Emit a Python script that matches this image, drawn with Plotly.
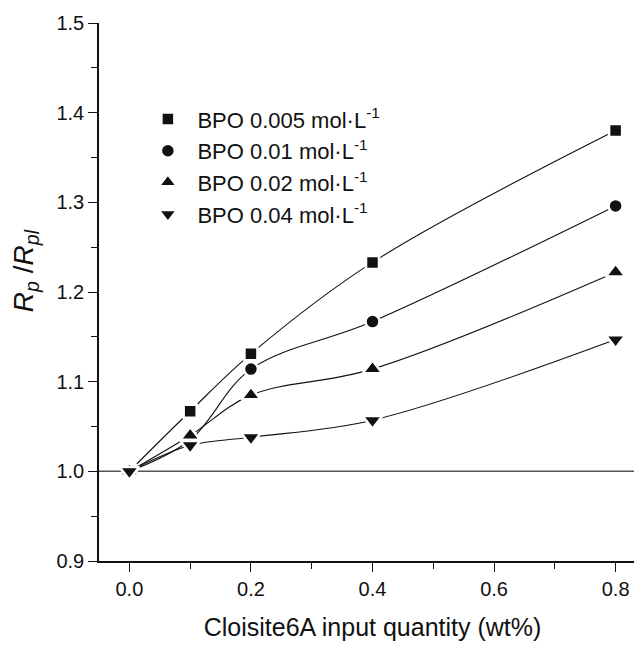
import plotly.graph_objects as go

x_vals = [0.0, 0.1, 0.2, 0.4, 0.8]
bpo_0005 = [1.000, 1.067, 1.131, 1.233, 1.380]
bpo_001 = [1.000, 1.035, 1.114, 1.167, 1.296]
bpo_002 = [1.000, 1.040, 1.085, 1.114, 1.222]
bpo_004 = [1.000, 1.029, 1.038, 1.057, 1.147]

series_names = [
    "BPO 0.005 mol·L<sup>-1</sup>",
    "BPO 0.01 mol·L<sup>-1</sup>",
    "BPO 0.02 mol·L<sup>-1</sup>",
    "BPO 0.04 mol·L<sup>-1</sup>",
]
series_values = [bpo_0005, bpo_001, bpo_002, bpo_004]
symbols = ["square", "circle", "triangle-up", "triangle-down"]
sizes = [13, 14, 17, 17]

FONT = "Arial, Liberation Sans, sans-serif"

fig = go.Figure()
# smooth connecting curves (no legend entries)
for vals in series_values:
    fig.add_trace(go.Scatter(
        x=x_vals, y=vals, mode="lines", showlegend=False, hoverinfo="skip",
        line=dict(color="#111", width=1.1, shape="spline", smoothing=1.0),
    ))
# markers with white halo to leave gaps in the curves
for name, vals, sym, sz in zip(series_names, series_values, symbols, sizes):
    fig.add_trace(go.Scatter(
        x=x_vals, y=vals, name=name, mode="markers",
        marker=dict(symbol=sym, size=sz, color="#111",
                    line=dict(color="white", width=2.5)),
    ))

fig.add_shape(type="line", xref="paper", x0=0, x1=1, yref="y", y0=1.0, y1=1.0,
              line=dict(color="#555", width=1.5), layer="below")

fig.add_annotation(
    text="<i>R</i><sub><i>p</i></sub> /<i>R</i><sub><i>pl</i></sub>",
    xref="paper", yref="paper", x=-0.135, y=0.539, xanchor="center", yanchor="middle",
    textangle=-90, showarrow=False, font=dict(size=28, family=FONT, color="#111"),
)

fig.update_layout(
    width=642, height=649, autosize=False,
    margin=dict(l=91, r=4, t=13, b=96),
    paper_bgcolor="white", plot_bgcolor="white",
    font=dict(family=FONT, color="#111"),
    showlegend=True,
    legend=dict(x=0.072, y=0.86, xanchor="left", yanchor="top",
                font=dict(size=22, family=FONT, color="#111"),
                bgcolor="rgba(0,0,0,0)", itemwidth=49, tracegroupgap=0),
    xaxis=dict(range=[-0.05, 0.85], tickvals=[0.0, 0.2, 0.4, 0.6, 0.8],
               ticktext=["0.0", "0.2", "0.4", "0.6", "0.8"],
               ticks="outside", ticklen=9, tickwidth=1.2, tickcolor="#111",
               minor=dict(tickvals=[0.1, 0.3, 0.5, 0.7], ticks="outside", ticklen=6,
                          tickwidth=1.2, tickcolor="#111"),
               showline=True, linecolor="#111", linewidth=1.5, showgrid=False,
               zeroline=False, tickfont=dict(size=20, family=FONT, color="#111"),
               title=dict(text="Cloisite6A input quantity (wt%)",
                          font=dict(size=25, family=FONT, color="#111"), standoff=20)),
    yaxis=dict(range=[0.9, 1.5], tickvals=[0.9, 1.0, 1.1, 1.2, 1.3, 1.4, 1.5],
               ticktext=["0.9", "1.0", "1.1", "1.2", "1.3", "1.4", "1.5"],
               ticks="outside", ticklen=9, tickwidth=1.2, tickcolor="#111",
               minor=dict(tickvals=[0.95, 1.05, 1.15, 1.25, 1.35, 1.45], ticks="outside",
                          ticklen=6, tickwidth=1.2, tickcolor="#111"),
               showline=True, linecolor="#111", linewidth=1.5, showgrid=False,
               zeroline=False, tickfont=dict(size=20, family=FONT, color="#111")),
)

fig.write_html("out.html")
